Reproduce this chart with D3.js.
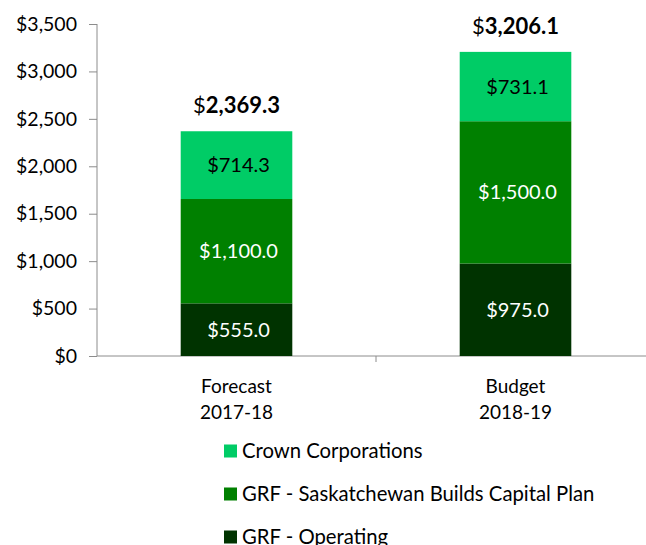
<!DOCTYPE html>
<html><head><meta charset="utf-8">
<script src="https://cdn.jsdelivr.net/npm/d3@7"></script>
<style>body{margin:0;background:#fff}text{font-family:Lato,"Open Sans",sans-serif}</style>
</head><body><svg id="c" width="646" height="545"></svg>
<script>
const categories = [["Forecast","2017-18"],["Budget","2018-19"]];
const seriesNames = ["GRF - Operating","GRF - Saskatchewan Builds Capital Plan","Crown Corporations"];
const operating = [555.0, 975.0];
const capital = [1100.0, 1500.0];
const crown = [714.3, 731.1];
const totals = [2369.3, 3206.1];
const yTicks = [0,500,1000,1500,2000,2500,3000,3500];
const colors = ["#003300","#008000","#00CC66"];
const labelColors = ["#ffffff","#ffffff","#000000"];

const svg = d3.select("#c");
const x = d3.scaleBand().domain([0,1]).range([97,655]).paddingInner(0.6).paddingOuter(0.3);
const y = d3.scaleLinear().domain([0,3500]).range([356,24]);

const yAxis = d3.axisLeft(y).tickValues(yTicks).tickSize(8).tickFormat(d=>"$"+d3.format(",")(d));
const ga = svg.append("g").attr("transform","translate(97,0)").call(yAxis);
ga.select(".domain").attr("stroke","#8c8c8c").attr("d","M0,24V356");
ga.selectAll(".tick line").attr("stroke","#8c8c8c");
ga.selectAll(".tick text").attr("font-size",19.5).attr("fill","#000").attr("x",-20);

// bottom axis
svg.append("line").attr("x1",97).attr("x2",655).attr("y1",356).attr("y2",356).attr("stroke","#8c8c8c");
svg.append("line").attr("x1",376).attr("x2",376).attr("y1",356).attr("y2",362).attr("stroke","#8c8c8c");

const data = [operating, capital, crown];
const stacked = categories.map((c,i)=>{let acc=0;return data.map((s,k)=>{const y0=acc;acc+=s[i];return {k,i,y0,y1:acc,v:s[i]};});}).flat();
const seg = svg.append("g").selectAll("g").data(stacked).join("g");
seg.append("rect").attr("x",d=>x(d.i)).attr("width",x.bandwidth())
  .attr("y",d=>y(d.y1)).attr("height",d=>y(d.y0)-y(d.y1)).attr("fill",d=>colors[d.k]);
seg.append("text").attr("x",d=>x(d.i)+x.bandwidth()/2+2).attr("y",d=>(y(d.y0)+y(d.y1))/2)
  .attr("dy","0.35em").attr("text-anchor","middle").attr("font-size",20)
  .attr("fill",d=>labelColors[d.k]).text(d=>"$"+d3.format(",.1f")(d.v));

const tot = svg.append("g").selectAll("text").data(totals).join("text")
  .attr("x",(d,i)=>x(i)+x.bandwidth()/2).attr("y",d=>y(d)-18).attr("text-anchor","middle").attr("font-size",22);
tot.append("tspan").text("$");
tot.append("tspan").attr("font-weight","bold").text(d=>d3.format(",.1f")(d));

const cl = svg.append("g").selectAll("text").data(categories).join("text")
  .attr("x",(d,i)=>x(i)+x.bandwidth()/2).attr("y",393).attr("text-anchor","middle").attr("font-size",19);
cl.append("tspan").text(d=>d[0]);
cl.append("tspan").attr("x",(d,i)=>x(i)+x.bandwidth()/2).attr("dy",26).text(d=>d[1]);

const legendOrder = [2,1,0];
const lg = svg.append("g").selectAll("g").data(legendOrder).join("g")
  .attr("transform",(d,j)=>`translate(224,${451+j*43})`);
lg.append("rect").attr("x",0).attr("y",-6.5).attr("width",13).attr("height",13).attr("fill",d=>colors[d]);
lg.append("text").attr("x",18).attr("dy","0.35em").attr("font-size",20.3).text(d=>seriesNames[d]);
</script></body></html>
